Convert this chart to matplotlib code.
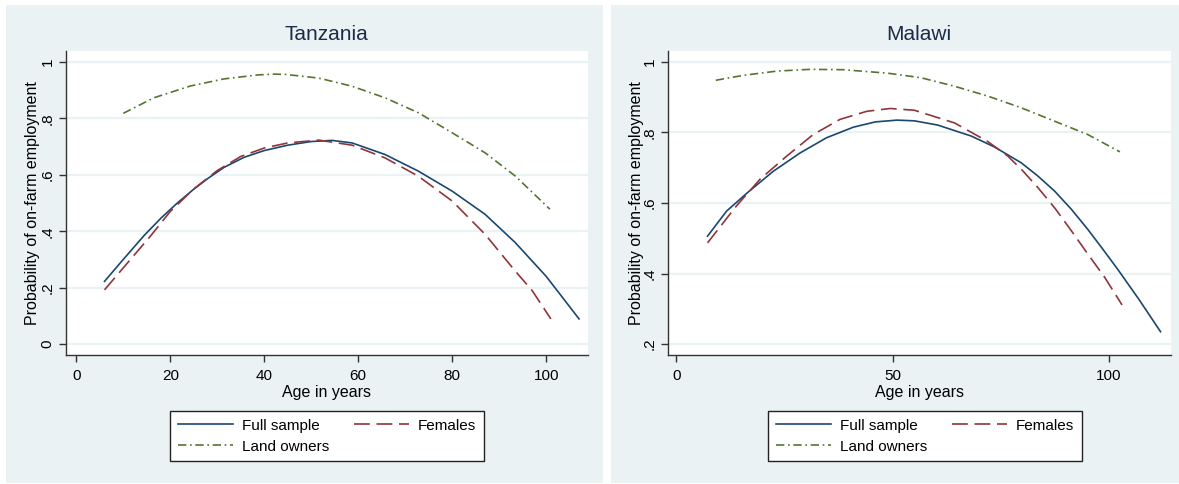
import matplotlib
matplotlib.use("Agg")
import matplotlib.pyplot as plt
from matplotlib.patches import Rectangle

plt.rcParams['font.family'] = ['Liberation Sans', 'DejaVu Sans']

# Tanzania curves (age, probability)
tz_full_age = [6, 10, 14.5, 18, 21.5, 25, 28, 31.4, 35.7, 40, 45, 50, 54.4, 58.7,
               65.7, 72.8, 80, 87, 93.4, 100, 107]
tz_full_p = [0.222, 0.30, 0.386, 0.446, 0.50, 0.549, 0.587, 0.626, 0.662, 0.686, 0.705,
             0.718, 0.722, 0.713, 0.672, 0.613, 0.542, 0.46, 0.36, 0.24, 0.089]
tz_fem_age = [6, 10, 15.8, 20, 25, 30, 35, 40, 45, 51.6, 58.7, 65.7, 72.8, 80, 87,
              93.4, 97, 101]
tz_fem_p = [0.192, 0.27, 0.383, 0.47, 0.55, 0.615, 0.665, 0.695, 0.713, 0.723, 0.705,
            0.66, 0.595, 0.507, 0.389, 0.259, 0.19, 0.089]
tz_land_age = [10, 16.5, 24.3, 31.4, 38.5, 42, 44.5, 51.6, 58.7, 65.7, 72.8, 80, 87,
               93.4, 100.8]
tz_land_p = [0.818, 0.873, 0.915, 0.94, 0.954, 0.957, 0.956, 0.943, 0.914, 0.873,
             0.82, 0.749, 0.678, 0.596, 0.478]

# Malawi curves
mw_full_age = [7.2, 11.6, 16.4, 22.4, 28.6, 34.7, 40.9, 46, 51, 55, 60.4, 68.1, 73.5,
               79.7, 83.5, 87.4, 91.3, 95.1, 98.5, 102, 107, 111.9]
mw_full_p = [0.506, 0.577, 0.629, 0.69, 0.742, 0.785, 0.815, 0.83, 0.835, 0.833, 0.821,
             0.79, 0.759, 0.714, 0.677, 0.634, 0.582, 0.525, 0.47, 0.412, 0.325, 0.235]
mw_fem_age = [7.2, 13.9, 19.3, 25.5, 31.6, 37.8, 44, 49.4, 55, 64.3, 72, 76.6, 80,
              83.6, 87.5, 91.3, 95, 99, 103]
mw_fem_p = [0.487, 0.592, 0.667, 0.733, 0.794, 0.837, 0.86, 0.868, 0.863, 0.827,
            0.774, 0.733, 0.692, 0.643, 0.585, 0.521, 0.457, 0.389, 0.311]
mw_land_age = [9.1, 15.5, 23.2, 30.9, 38.6, 48.9, 56.6, 64.3, 72, 79.7, 87.4, 95.1,
               102.5]
mw_land_p = [0.948, 0.962, 0.974, 0.979, 0.978, 0.968, 0.955, 0.931, 0.903, 0.87,
             0.832, 0.794, 0.745]

series_names = ["Full sample", "Females", "Land owners"]
tz_xticks = [0, 20, 40, 60, 80, 100]
tz_yticks = [0, 0.2, 0.4, 0.6, 0.8, 1]
tz_ylabels = ["0", ".2", ".4", ".6", ".8", "1"]
mw_xticks = [0, 50, 100]
mw_yticks = [0.2, 0.4, 0.6, 0.8, 1]
mw_ylabels = [".2", ".4", ".6", ".8", "1"]

BG = "#eaf2f3"
C_FULL = "#1a476f"
C_FEM = "#90353b"
C_LAND = "#55752f"

W, H = 1179, 484
fig = plt.figure(figsize=(W / 100, H / 100), dpi=100)
fig.patch.set_facecolor("white")

# panel backgrounds (behind the axes)
fig.patches.append(Rectangle((6 / W, 1 / H), (603 - 6) / W, (483 - 5) / H,
                             transform=fig.transFigure, facecolor=BG, edgecolor="none", zorder=-5))
fig.patches.append(Rectangle((611 / W, 1 / H), (1179 - 611) / W, (483 - 5) / H,
                             transform=fig.transFigure, facecolor=BG, edgecolor="none", zorder=-5))


def panel(x0, x1, ylab_x, title, data, xticks, yticks, ylabels, xlim, ylim, leg_x0):
    ax = fig.add_axes([x0 / W, (H - 355) / H, (x1 - x0) / W, (355 - 51) / H])
    ax.set_facecolor("white")
    (fa, fp), (ea, ep), (la, lp) = data
    h_full, = ax.plot(fa, fp, color=C_FULL, lw=1.2, label=series_names[0])
    h_fem, = ax.plot(ea, ep, color=C_FEM, lw=1.2, dashes=(9.5, 4), label=series_names[1])
    h_land, = ax.plot(la, lp, color=C_LAND, lw=1.2, dashes=(5, 2.2, 1, 2.2),
                      label=series_names[2])
    ax.set_xlim(*xlim)
    ax.set_ylim(*ylim)
    ax.set_xticks(xticks)
    ax.set_yticks(yticks)
    ax.set_yticklabels(ylabels, rotation=90, va="center")
    ax.tick_params(axis="both", labelsize=11, color="#333333", width=1, length=5,
                   direction="out")
    ax.tick_params(axis="y", pad=3)
    ax.tick_params(axis="x", pad=5)
    for s in ["top", "right"]:
        ax.spines[s].set_visible(False)
    for s in ["left", "bottom"]:
        ax.spines[s].set_color("#333333")
        ax.spines[s].set_linewidth(1)
    ax.grid(axis="y", color=BG, lw=1.6)
    ax.set_axisbelow(True)
    ax.set_title(title, fontsize=15, color="#1c2b4a", pad=8)
    ax.set_ylabel("Probability of on-farm employment", fontsize=11.5)
    ax.yaxis.set_label_coords((ylab_x - x0) / (x1 - x0), 0.5)
    ax.yaxis.label.set_va("center")
    ax.set_xlabel("Age in years", fontsize=11.5)
    ax.xaxis.set_label_coords(0.5, (355 - 392) / 304)
    ax.xaxis.label.set_va("center")
    # column-major fill: order so rows read Full sample | Females / Land owners
    leg = ax.legend([h_full, h_land, h_fem],
                    [series_names[0], series_names[2], series_names[1]],
                    loc="upper left", bbox_to_anchor=(leg_x0 / W, (H - 411) / H),
                    bbox_transform=fig.transFigure, ncol=2, fontsize=11,
                    frameon=True, fancybox=False, framealpha=1, edgecolor="#222222",
                    handlelength=3.6, handletextpad=0.6, columnspacing=1.6,
                    labelspacing=0.45, borderpad=0.5, borderaxespad=0)
    leg.get_frame().set_linewidth(1)
    return ax


panel(65.5, 587.5, 33, "Tanzania",
      [(tz_full_age, tz_full_p), (tz_fem_age, tz_fem_p), (tz_land_age, tz_land_p)],
      tz_xticks, tz_yticks, tz_ylabels, (-2.3, 108.8), (-0.039, 1.039), 170)
panel(667.6, 1170.5, 636, "Malawi",
      [(mw_full_age, mw_full_p), (mw_fem_age, mw_fem_p), (mw_land_age, mw_land_p)],
      mw_xticks, mw_yticks, mw_ylabels, (-2.03, 114.2), (0.169, 1.031), 768)

fig.savefig("out.png", dpi=100, facecolor=fig.get_facecolor())
